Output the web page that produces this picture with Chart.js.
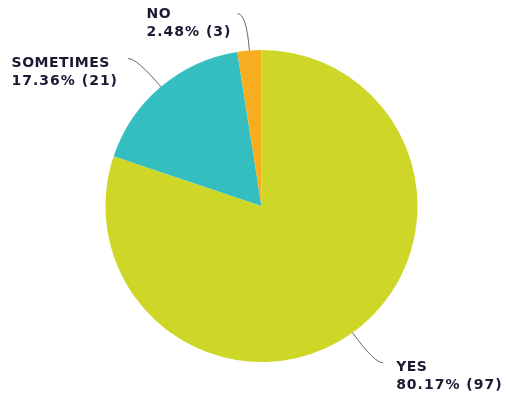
<!DOCTYPE html>
<html>
<head>
<meta charset="utf-8">
<script src="https://cdn.jsdelivr.net/npm/chart.js@4"></script>
<style>
  html, body { margin: 0; padding: 0; background: #fff; }
  #wrap { width: 507px; height: 398px; }
</style>
</head>
<body>
<div id="wrap"><canvas id="pieChart"></canvas></div>
<script>
const answers = ["YES", "SOMETIMES", "NO"];
const counts = [97, 21, 3];
const sliceColors = ["#ced628", "#35bec0", "#f6ae20"];

// where each label sits relative to the end of its leader line
const labelOffsets = [[13, 8], [-10, 8], [-6, 4]];

const total = counts.reduce((a, b) => a + b, 0);

/* =========================
   LABELS WITH LEADER LINES
========================= */
const leaderLabels = {
  id: "leaderLabels",
  afterDraw(chart) {
    const ctx = chart.ctx;
    const arcs = chart.getDatasetMeta(0).data;
    ctx.save();
    arcs.forEach((arc, i) => {
      const mid = (arc.startAngle + arc.endAngle) / 2;
      const r = arc.outerRadius;
      const cos = Math.cos(mid), sin = Math.sin(mid);
      const right = cos >= 0;
      const ex = arc.x + cos * r, ey = arc.y + sin * r;
      const rx = arc.x + cos * (r + 37), ry = arc.y + sin * (r + 37);
      const hx = rx + (right ? 9 : -9), hy = ry;

      ctx.beginPath();
      ctx.moveTo(ex, ey);
      ctx.quadraticCurveTo(rx, ry, hx, hy);
      ctx.strokeStyle = "#666";
      ctx.lineWidth = 1;
      ctx.stroke();

      const pct = (counts[i] / total * 100).toFixed(2) + "% (" + counts[i] + ")";
      const [dx, dy] = labelOffsets[i];
      ctx.fillStyle = "#1a1a33";
      ctx.textAlign = "left";
      ctx.textBaseline = "alphabetic";
      ctx.font = "bold 14px 'DejaVu Sans'";
      let left = hx + dx;
      if (!right) {
        ctx.letterSpacing = "1px";
        left = hx + dx - ctx.measureText(pct).width;
      }
      ctx.letterSpacing = "0.5px";
      ctx.fillText(answers[i], left, hy + dy);
      ctx.letterSpacing = "1px";
      ctx.fillText(pct, left, hy + dy + 18);
    });
    ctx.restore();
  },
};

new Chart(document.getElementById("pieChart"), {
  type: "pie",
  data: {
    labels: answers,
    datasets: [
      {
        data: counts,
        backgroundColor: sliceColors,
        borderWidth: 0,
      },
    ],
  },
  options: {
    responsive: true,
    maintainAspectRatio: false,
    animation: false,
    layout: { padding: { left: 105, right: 89, top: 50, bottom: 36 } },
    plugins: {
      legend: { display: false },
      tooltip: { enabled: false },
    },
  },
  plugins: [leaderLabels],
});
</script>
</body>
</html>
